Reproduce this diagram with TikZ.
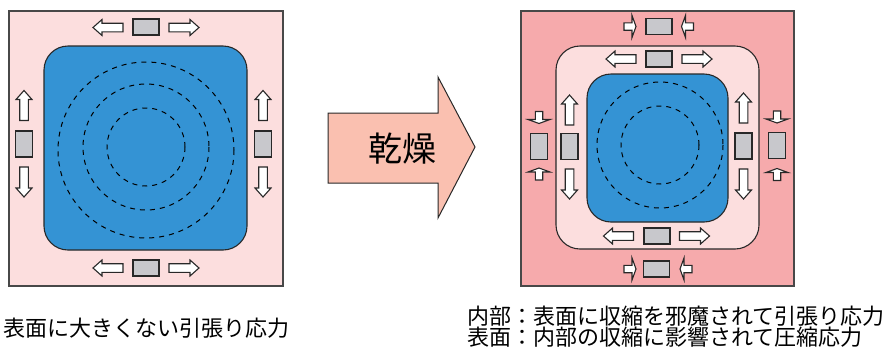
\documentclass[tikz,border=0pt]{standalone}
\usepackage{fontspec}
\newfontfamily\jpfont{Noto Sans CJK JP}
\definecolor{panelA}{RGB}{252,222,222}
\definecolor{panelB}{RGB}{246,170,172}
\definecolor{blueC}{RGB}{52,147,212}
\definecolor{grayR}{RGB}{200,200,204}
\definecolor{arrowF}{RGB}{250,192,176}
\definecolor{edgeC}{RGB}{40,40,40}
\tikzset{
  panel/.style={draw=edgeC!85!white, line width=1.3pt},
  core/.style={draw=edgeC, line width=1.1pt, fill=blueC, rounded corners=24pt},
  ring/.style={draw=black, line width=1pt, dash pattern=on 5pt off 5pt},
  graybox/.style={draw=edgeC, line width=1.1pt, fill=grayR, inner sep=0pt},
  hbox/.style={graybox, minimum width=26pt, minimum height=16pt},
  vbox/.style={graybox, minimum width=17pt, minimum height=26pt},
  arrline/.style={draw=edgeC, line width=1.1pt, fill=white, line join=miter},
  bigarr/.pic={\path[arrline] (-15,-4.3) -- (6,-4.3) -- (6,-8) -- (15,0) -- (6,8) -- (6,4.3) -- (-15,4.3) -- cycle;},
  smallarr/.pic={\path[arrline] (-6,-3.7) -- (2,-3.7) -- (2,-11) -- (6,0) -- (2,11) -- (2,3.7) -- (-6,3.7) -- cycle;}
}
\begin{document}
\begin{tikzpicture}[x=1pt,y=-1pt]
\useasboundingbox (0,0) rectangle (890,349);
% ---------------- left panel
\path[panel, fill=panelA] (9,11) rectangle (283,286);
\path[core] (44,46) rectangle (247,250);
\draw[ring] (146,150) circle[radius=88];
\draw[ring] (146,147) circle[radius=63];
\draw[ring] (146,147) circle[radius=39];
\node[hbox] (lt) at (146,27) {};
\node[hbox] (lb) at (146,268) {};
\node[vbox] (ll) at (24,144) {};
\node[vbox] (lr) at (263,144) {};
\pic[rotate=180] at (108,27.5) {bigarr};
\pic at (184,27.5) {bigarr};
\pic[rotate=180] at (108,268) {bigarr};
\pic at (184,268) {bigarr};
\pic[rotate=90] at (24,105.5) {bigarr};
\pic[rotate=-90] at (24,182) {bigarr};
\pic[rotate=90] at (263,105.5) {bigarr};
\pic[rotate=-90] at (263,182) {bigarr};
% ---------------- drying arrow
\path[draw=edgeC, line width=1pt, fill=arrowF] (328,113) -- (438,113) -- (438,77) -- (475,147) -- (438,218) -- (438,183) -- (328,183) -- cycle;
\node[font=\jpfont\fontsize{34}{34}\selectfont, inner sep=0pt] (dry) at (402,149) {乾燥};
% ---------------- right panel
\path[panel, fill=panelB] (521,11) rectangle (794,286);
\path[draw=edgeC, line width=1.1pt, fill=panelA, rounded corners=24pt] (556,46) rectangle (759,249);
\path[core] (587,74) rectangle (728,222);
\draw[ring] (660,145) circle[radius=63];
\draw[ring] (660,145) circle[radius=39];
% middle layer (tension)
\node[hbox] (mt) at (659,59) {};
\node[hbox] (mb) at (657,236) {};
\node[vbox] (ml) at (569.5,146.5) {};
\node[vbox] (mr) at (743.5,146) {};
\pic[rotate=180] at (621,59) {bigarr};
\pic at (697,59) {bigarr};
\pic[rotate=180] at (618.5,236) {bigarr};
\pic at (694.5,236) {bigarr};
\pic[rotate=90] at (569.5,110) {bigarr};
\pic[rotate=-90] at (569.5,184) {bigarr};
\pic[rotate=90] at (743.5,108) {bigarr};
\pic[rotate=-90] at (743.5,184) {bigarr};
% outer layer (compression)
\node[hbox] (ot) at (659,26.5) {};
\node[hbox] (ob) at (656.5,269) {};
\node[vbox] (ol) at (539,146.5) {};
\node[vbox] (or) at (777,145.5) {};
\pic at (630,26.5) {smallarr};
\pic[rotate=180] at (687.5,26.5) {smallarr};
\pic at (630,269) {smallarr};
\pic[rotate=180] at (686,269) {smallarr};
\pic[rotate=-90] at (539,117.5) {smallarr};
\pic[rotate=90] at (539,174) {smallarr};
\pic[rotate=-90] at (777,117) {smallarr};
\pic[rotate=90] at (777,174.5) {smallarr};
% ---------------- captions
\node[font=\jpfont\fontsize{22}{22}\selectfont, anchor=west, inner sep=0pt] (capL) at (3,328) {表面に大きくない引張り応力};
\node[font=\jpfont\fontsize{22}{21}\selectfont, anchor=west, align=left, inner sep=0pt] (capR) at (467,327) {内部：表面に収縮を邪魔されて引張り応力\\表面：内部の収縮に影響されて圧縮応力};
\end{tikzpicture}
\end{document}
